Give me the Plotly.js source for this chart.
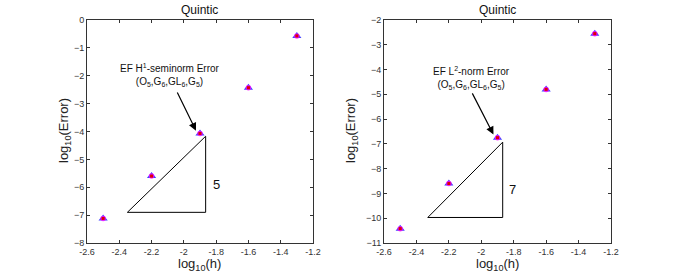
<!DOCTYPE html>
<html>
<head>
<meta charset="utf-8">
<script src="https://cdn.plot.ly/plotly-3.0.1.min.js"></script>
<style>html,body{margin:0;padding:0;background:#fff;}#chart{width:674px;height:273px;}</style>
</head>
<body>
<div id="chart"></div>
<script>
// Data
const logH = [-2.5, -2.2, -1.9, -1.6, -1.3];
const errH1 = [-7.12, -5.6, -4.07, -2.43, -0.57];
const errL2 = [-10.42, -8.6, -6.75, -4.8, -2.55];
// slope triangles
const triH1x = [-2.35, -1.865, -1.865, -2.35];
const triH1y = [-6.9, -6.9, -4.17, -6.9];
const triL2x = [-2.33, -1.868, -1.868, -2.33];
const triL2y = [-9.97, -9.97, -6.93, -9.97];
const slopeH1 = '5';
const slopeL2 = '7';

function markerTraces(x, y, xa, ya) {
  return [
    {x: x, y: y, xaxis: xa, yaxis: ya, mode: 'markers', type: 'scatter',
     marker: {symbol: 'triangle-up', size: 8, color: '#4040ff'}, showlegend: false, hoverinfo: 'skip'},
    {x: x, y: y, xaxis: xa, yaxis: ya, mode: 'markers', type: 'scatter',
     marker: {symbol: 'circle', size: 5.5, color: 'rgba(255,0,255,0.75)'}, showlegend: false, hoverinfo: 'skip'},
    {x: x, y: y, xaxis: xa, yaxis: ya, mode: 'markers', type: 'scatter',
     marker: {symbol: 'square', size: 3, color: '#e00000'}, showlegend: false, hoverinfo: 'skip'}
  ];
}

const traces = [
  {x: triH1x, y: triH1y, xaxis: 'x', yaxis: 'y', mode: 'lines', type: 'scatter',
   line: {color: '#000', width: 1}, showlegend: false, hoverinfo: 'skip'},
  {x: triL2x, y: triL2y, xaxis: 'x2', yaxis: 'y2', mode: 'lines', type: 'scatter',
   line: {color: '#000', width: 1}, showlegend: false, hoverinfo: 'skip'}
].concat(markerTraces(logH, errH1, 'x', 'y'), markerTraces(logH, errL2, 'x2', 'y2'));

const FONT = 'Liberation Sans, Arial, sans-serif';
const tickFont = {family: FONT, size: 9, color: '#333'};
function xaxis(domain, anchor) {
  return {domain: domain, anchor: anchor, range: [-2.6, -1.2],
    tickvals: [-2.6, -2.4, -2.2, -2, -1.8, -1.6, -1.4, -1.2],
    ticktext: ['-2.6', '-2.4', '-2.2', '-2', '-1.8', '-1.6', '-1.4', '-1.2'],
    showline: true, linecolor: '#333', linewidth: 1, mirror: 'ticks', ticks: 'inside',
    ticklen: 3, tickcolor: '#333', showgrid: false, zeroline: false, tickfont: tickFont, fixedrange: true};
}
function yaxis(domain, anchor, range) {
  return {domain: domain, anchor: anchor, range: range, dtick: 1,
    showline: true, linecolor: '#333', linewidth: 1, mirror: 'ticks', ticks: 'inside',
    ticklen: 3, tickcolor: '#333', showgrid: false, zeroline: false, tickfont: tickFont,
    tickformat: 'd', fixedrange: true};
}
const yd = [1 - 243 / 273, 1 - 20 / 273];
const layout = {
  width: 674, height: 273, margin: {l: 0, r: 0, t: 0, b: 0},
  paper_bgcolor: '#fff', plot_bgcolor: '#fff', showlegend: false,
  xaxis: xaxis([87 / 674, 313 / 674], 'y'),
  yaxis: yaxis(yd, 'x', [-8, 0]),
  xaxis2: xaxis([384 / 674, 611 / 674], 'y2'),
  yaxis2: yaxis(yd, 'x2', [-11, -2]),
  annotations: [
    // titles
    {xref: 'paper', yref: 'paper', x: 200 / 674, y: 1 - 10.5 / 273, text: 'Quintic', showarrow: false,
     font: {family: FONT, size: 12, color: '#111'}, xanchor: 'center', yanchor: 'middle'},
    {xref: 'paper', yref: 'paper', x: 497.5 / 674, y: 1 - 10.5 / 273, text: 'Quintic', showarrow: false,
     font: {family: FONT, size: 12, color: '#111'}, xanchor: 'center', yanchor: 'middle'},
    // x titles
    {xref: 'paper', yref: 'paper', x: 200 / 674, y: 1 - 264 / 273, text: 'log<sub>10</sub>(h)', showarrow: false,
     font: {family: FONT, size: 13, color: '#222'}, xanchor: 'center', yanchor: 'middle'},
    {xref: 'paper', yref: 'paper', x: 497.5 / 674, y: 1 - 264 / 273, text: 'log<sub>10</sub>(h)', showarrow: false,
     font: {family: FONT, size: 13, color: '#222'}, xanchor: 'center', yanchor: 'middle'},
    // y titles
    {xref: 'paper', yref: 'paper', x: 64 / 674, y: 1 - 131 / 273, text: 'log<sub>10</sub>(Error)', showarrow: false,
     textangle: -90, font: {family: FONT, size: 13, color: '#222'}, xanchor: 'center', yanchor: 'middle'},
    {xref: 'paper', yref: 'paper', x: 351 / 674, y: 1 - 131 / 273, text: 'log<sub>10</sub>(Error)', showarrow: false,
     textangle: -90, font: {family: FONT, size: 13, color: '#222'}, xanchor: 'center', yanchor: 'middle'},
    // labels
    {xref: 'x', yref: 'y', x: -2.085, y: -1.97, text: 'EF H<sup>1</sup>-seminorm Error<br>(O<sub>5</sub>,G<sub>6</sub>,GL<sub>6</sub>,G<sub>5</sub>)',
     showarrow: false, font: {family: FONT, size: 10, color: '#111'}, xanchor: 'center', yanchor: 'middle'},
    {xref: 'x2', yref: 'y2', x: -2.06, y: -4.33, text: 'EF L<sup>2</sup>-norm Error<br>(O<sub>5</sub>,G<sub>6</sub>,GL<sub>6</sub>,G<sub>5</sub>)',
     showarrow: false, font: {family: FONT, size: 10, color: '#111'}, xanchor: 'center', yanchor: 'middle'},
    // arrows
    {xref: 'x', yref: 'y', x: -1.925, y: -3.97, axref: 'x', ayref: 'y', ax: -2.045, ay: -2.55, text: '',
     showarrow: true, arrowhead: 2, arrowsize: 1.3, arrowwidth: 1.2, arrowcolor: '#000', standoff: 0},
    {xref: 'x2', yref: 'y2', x: -1.925, y: -6.62, axref: 'x2', ayref: 'y2', ax: -2.06, ay: -4.9, text: '',
     showarrow: true, arrowhead: 2, arrowsize: 1.3, arrowwidth: 1.2, arrowcolor: '#000', standoff: 0},
    // slopes
    {xref: 'x', yref: 'y', x: -1.8, y: -5.9, text: slopeH1, showarrow: false,
     font: {family: FONT, size: 13, color: '#111'}},
    {xref: 'x2', yref: 'y2', x: -1.81, y: -8.86, text: slopeL2, showarrow: false,
     font: {family: FONT, size: 13, color: '#111'}}
  ]
};
Plotly.newPlot('chart', traces, layout, {staticPlot: true, displayModeBar: false});
</script>
</body>
</html>
